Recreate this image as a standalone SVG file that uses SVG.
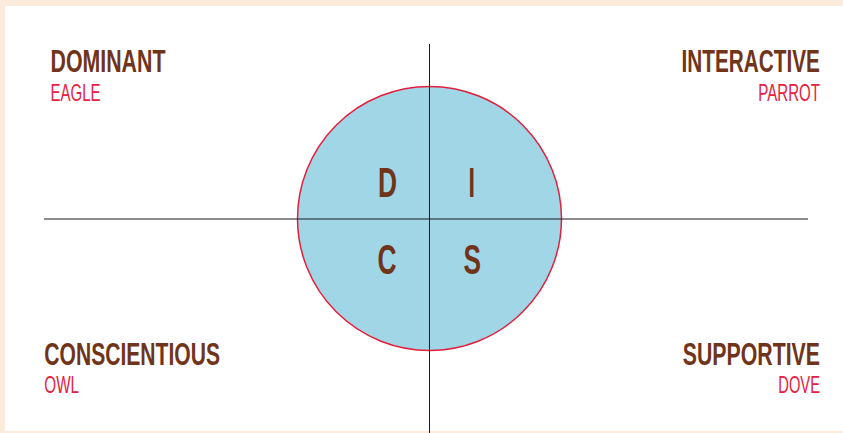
<svg xmlns="http://www.w3.org/2000/svg" width="843" height="433" viewBox="0 0 843 433">
<style>
.h{font-family:"Liberation Sans",Arial,sans-serif;font-weight:bold;font-size:32px;fill:#6f3419}
.a{font-family:"Liberation Sans",Arial,sans-serif;font-size:24px;fill:#e8203f}
.l{font-family:"Liberation Sans",Arial,sans-serif;font-weight:bold;font-size:42px;fill:#6f3419}
.ax{stroke:#1a1a1a;stroke-width:1}
</style>
<rect x="0" y="0" width="843" height="433" fill="#fbebdc"/>
<rect x="5" y="6" width="838" height="425" fill="#ffffff"/>
<g id="circle">
<circle cx="429.5" cy="218.5" r="132" fill="#a0d6e6" stroke="#e41f3d" stroke-width="1.5"/>
</g>
<g id="connectors">
<line class="ax" x1="429.5" y1="44" x2="429.5" y2="433"/>
<line class="ax" x1="44" y1="219" x2="808" y2="219"/>
</g>
<g id="letters">
<text class="l" transform="translate(378,197) scale(0.63,1)" textLength="30.2" lengthAdjust="spacingAndGlyphs">D</text>
<text class="l" transform="translate(468.5,197) scale(0.63,1)" textLength="10.3" lengthAdjust="spacingAndGlyphs">I</text>
<text class="l" transform="translate(377.5,274) scale(0.63,1)" textLength="30.2" lengthAdjust="spacingAndGlyphs">C</text>
<text class="l" transform="translate(463.5,274) scale(0.63,1)" textLength="27.8" lengthAdjust="spacingAndGlyphs">S</text>
</g>
<g id="dominant">
<text class="h" transform="translate(50.5,71.5) scale(0.63,1)" textLength="182.5" lengthAdjust="spacingAndGlyphs">DOMINANT</text>
<text class="a" transform="translate(50.5,100.5) scale(0.63,1)" textLength="79.4" lengthAdjust="spacingAndGlyphs">EAGLE</text>
</g>
<g id="interactive">
<text class="h" transform="translate(681.5,71.5) scale(0.63,1)" textLength="219.8" lengthAdjust="spacingAndGlyphs">INTERACTIVE</text>
<text class="a" transform="translate(758.3,100.5) scale(0.63,1)" textLength="97.9" lengthAdjust="spacingAndGlyphs">PARROT</text>
</g>
<g id="conscientious">
<text class="h" transform="translate(44.3,365) scale(0.63,1)" textLength="278.9" lengthAdjust="spacingAndGlyphs">CONSCIENTIOUS</text>
<text class="a" transform="translate(44.3,392.5) scale(0.63,1)" textLength="55.1" lengthAdjust="spacingAndGlyphs">OWL</text>
</g>
<g id="supportive">
<text class="h" transform="translate(682.7,365) scale(0.63,1)" textLength="217.9" lengthAdjust="spacingAndGlyphs">SUPPORTIVE</text>
<text class="a" transform="translate(778.3,392.5) scale(0.63,1)" textLength="66.2" lengthAdjust="spacingAndGlyphs">DOVE</text>
</g>
</svg>
